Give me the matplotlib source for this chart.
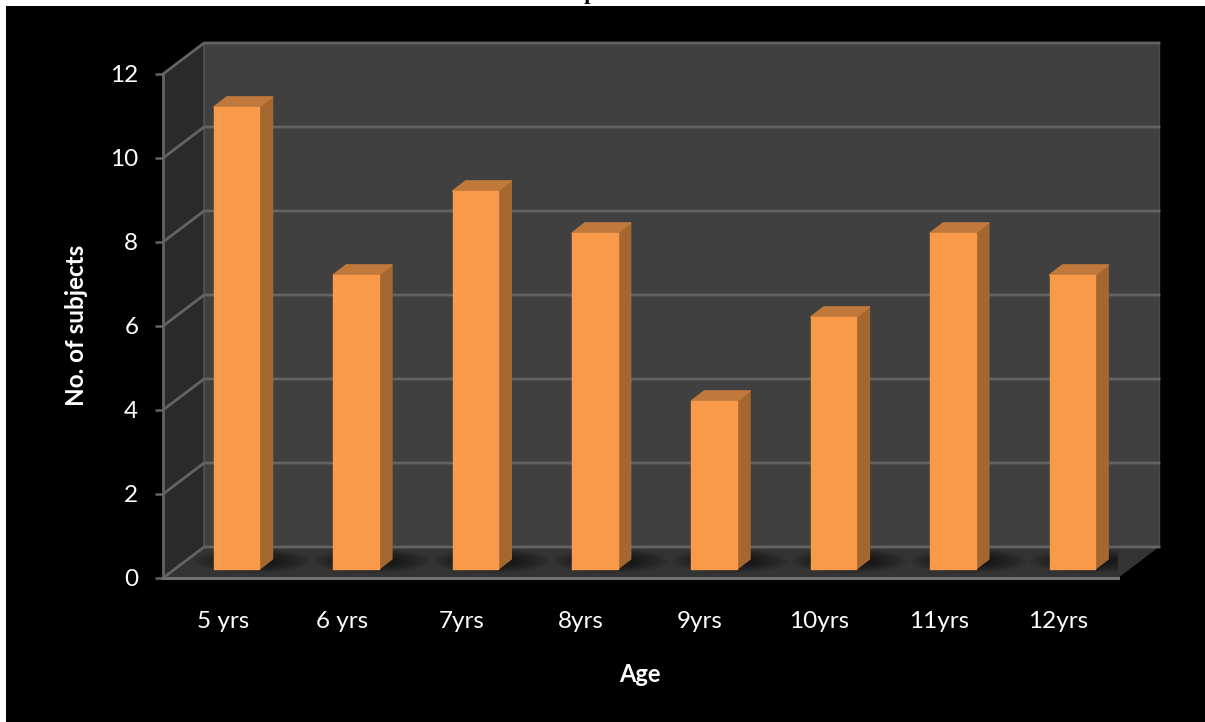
import matplotlib
matplotlib.use("Agg")
import matplotlib.pyplot as plt
from matplotlib.patches import Polygon, Ellipse, Rectangle

ages = ["5 yrs", "6 yrs", "7yrs", "8yrs", "9yrs", "10yrs", "11yrs", "12yrs"]
subjects = [11, 7, 9, 8, 4, 6, 8, 7]
y_ticks = [0, 2, 4, 6, 8, 10, 12]

W, H = 1205, 722
plt.rcParams["font.family"] = ["Lato", "DejaVu Sans"]

fig = plt.figure(figsize=(W / 100, H / 100), dpi=100, facecolor="white")

# Heading sits above the dark panel, so the panel hides most of it
fig.text(605 / W, 1 + 0.5 / H, "Graph No. 6", family="Liberation Serif", weight="bold",
         size=16, color="black", ha="center", va="baseline", zorder=0)
panel = fig.add_axes([6 / W, 0, 1 - 6 / W, 1 - 6 / H], facecolor="black", zorder=1)
panel.set_axis_off()
panel.add_patch(Rectangle((0, 0), 1, 1, transform=panel.transAxes, color="black"))

ax = fig.add_axes([163 / W, (H - 578) / H, 955 / W, 504 / H], facecolor="none", zorder=2)
ax.set_xlim(-0.5, len(ages) - 0.5)
ax.set_ylim(0, 12)

# Pixel-to-data scale factors for the oblique depth offsets
ux = len(ages) / 955
uy = 12 / 504
back_dx, back_dy = 41 * ux, 31 * uy
x0, x1 = -0.5, len(ages) - 0.5

GRID = "#636363"
WALL = "#404040"
SIDE = "#2a2a2a"
FLOOR = "#333333"


def poly(points, color, z, **kw):
    p = Polygon(points, closed=True, facecolor=color, edgecolor=kw.pop("edge", "none"),
                clip_on=False, zorder=z, **kw)
    ax.add_patch(p)
    return p


# Back wall, side wall and floor
poly([(x0 + back_dx, back_dy), (x1 + back_dx, back_dy),
      (x1 + back_dx, 12 + back_dy), (x0 + back_dx, 12 + back_dy)], WALL, 1)
poly([(x0, 0), (x0 + back_dx, back_dy), (x0 + back_dx, 12 + back_dy), (x0, 12)], SIDE, 1)
floor = poly([(x0, 0), (x1, 0), (x1 + back_dx, back_dy), (x0 + back_dx, back_dy)], FLOOR, 1.5)

# Back edges of the walls
ax.plot([x0 + back_dx] * 2, [back_dy, 12 + back_dy], color="#4c4c4c", lw=1.5,
        clip_on=False, zorder=1.7)
ax.plot([x1 + back_dx] * 2, [back_dy, 12 + back_dy], color="#4a4a4a", lw=1.0,
        clip_on=False, zorder=1.7)

# Gridlines wrap around the back and side walls
for v in y_ticks:
    ax.plot([x0, x0 + back_dx, x1 + back_dx], [v, v + back_dy, v + back_dy], color=GRID,
            lw=2.0, clip_on=False, zorder=1.8, solid_joinstyle="round")

# Front edges of the box
ax.plot([x0, x0], [0, 12], color=GRID, lw=2.0, clip_on=False, zorder=2)
ax.plot([x0, x1], [0, 0], color="#707070", lw=2.2, clip_on=False, zorder=2)

# Bars stand part way into the floor
bar_dx = 14 * ux
bar_base = 9 * uy
bar_w = 45.5 * ux
depth_x, depth_y = 13 * ux, 10 * uy
FRONT, TOP, RIGHT = "#f99a4a", "#c0793a", "#a4672f"

centers = [i + bar_dx for i in range(len(ages))]

# Soft contact shadow on the floor, built from many faint stacked ellipses
for cx in centers:
    for step in range(12):
        grow = 1.0 - step / 13
        e = Ellipse((cx + 16 * ux, bar_base + 8 * uy), 115 * ux * grow, 24 * uy * grow,
                    facecolor="black", edgecolor="none", alpha=0.07, zorder=1.6,
                    clip_on=True)
        ax.add_patch(e)
        e.set_clip_path(floor)

ax.bar(centers, subjects, width=bar_w, bottom=bar_base, color=FRONT, edgecolor=FRONT,
       linewidth=1.0, joinstyle="round", zorder=4, clip_on=False)

for cx, v in zip(centers, subjects):
    left, right = cx - bar_w / 2, cx + bar_w / 2
    top = v + bar_base
    poly([(right, bar_base), (right + depth_x, bar_base + depth_y),
          (right + depth_x, top + depth_y), (right, top)], RIGHT, 3,
         edge=RIGHT, linewidth=1.2, joinstyle="round")
    poly([(left, top), (right, top), (right + depth_x, top + depth_y),
          (left + depth_x, top + depth_y)], TOP, 3,
         edge=TOP, linewidth=1.2, joinstyle="round")

for side in ax.spines.values():
    side.set_visible(False)

ax.set_yticks(y_ticks)
ax.set_xticks(range(len(ages)), ages)
ax.tick_params(axis="y", length=5.8, width=1.8, color=GRID, labelcolor="white",
               labelsize=17.5, pad=12)
ax.tick_params(axis="x", length=0, labelcolor="white", labelsize=17.5, pad=24)

ax.set_ylabel("No. of subjects", color="white", weight="bold", size=17.5)
ax.yaxis.set_label_coords((76 - 163) / 955, (578 - 325) / 504)
ax.set_xlabel("Age", color="white", weight="bold", size=17)
ax.xaxis.set_label_coords((640 - 163) / 955, (578 - 674) / 504)
ax.xaxis.label.set_va("center")
ax.yaxis.label.set_va("center")

fig.savefig("out.png", dpi=100, facecolor="white")
